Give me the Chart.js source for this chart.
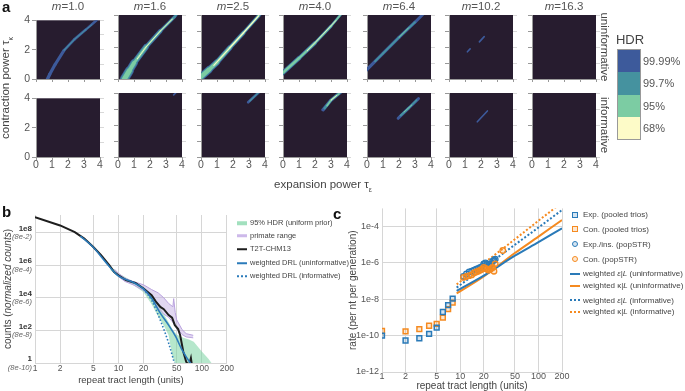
<!DOCTYPE html>
<html>
<head>
<meta charset="utf-8">
<script src="https://cdn.jsdelivr.net/npm/chart.js@4.4.1/dist/chart.umd.min.js"></script>
<style>
body { margin: 0; background: #fff; }
#fig { position: relative; width: 685px; height: 391px; overflow: hidden; background: #fff;
       font-family: 'Liberation Sans', Arial, Helvetica, sans-serif; color: #444; }
.t { position: absolute; white-space: nowrap; line-height: 1; transform: translate(-50%, -50%); }
.l { position: absolute; white-space: nowrap; line-height: 1; transform: translate(0, -50%); }
.sw { display: inline-block; vertical-align: middle; margin-right: 3px; }
canvas { position: absolute; }
</style>
</head>
<body>
<div id="fig"></div>
<script>
// ---------- panel a: HDR of (tau_eps, tau_kappa) per m ----------
const mValues = ['1.0', '1.6', '2.5', '4.0', '6.4', '10.2', '16.3'];
const hdrLevels = ['99.99%', '99.7%', '95%', '68%'];
const hdrColors = ['#3d5a9b', '#45929f', '#7ccca3', '#fdfbc8'];

// each band: list per HDR level of [tau_eps, tau_kappa, band width]
const uninformative = [
  [ // m=1.0
    [[0.72, 0, 0.22], [0.85, 0.3, 0.2], [1.2, 1.0, 0.2], [1.75, 1.95, 0.18], [2.4, 2.7, 0.17], [3.1, 3.35, 0.16], [3.8, 4.02, 0.15]],
    [[1.75, 1.95, 0.06], [2.4, 2.7, 0.07], [3.1, 3.35, 0.06], [3.5, 3.7, 0.05]],
    [], []
  ],
  [ // m=1.6
    [[0.4, 0, 0.62], [0.7, 0.5, 0.52], [1.0, 1.0, 0.44], [1.75, 2.0, 0.32], [2.65, 3.0, 0.24], [3.55, 3.9, 0.17], [3.68, 4.05, 0.15]],
    [[0.4, 0, 0.5], [0.7, 0.5, 0.42], [1.0, 1.0, 0.34], [1.75, 2.0, 0.24], [2.65, 3.0, 0.17], [3.55, 3.9, 0.11], [3.68, 4.05, 0.1]],
    [[0.4, 0, 0.34], [0.7, 0.5, 0.28], [1.0, 1.0, 0.2], [1.75, 2.0, 0.13], [2.65, 3.0, 0.09], [3.4, 3.75, 0.06]],
    [[1.2, 1.25, 0.05], [1.75, 2.0, 0.06], [2.65, 3.0, 0.05], [3.4, 3.75, 0.04]]
  ],
  [ // m=2.5
    [[-0.1, 0.05, 0.5], [0.5, 0.58, 0.42], [1.0, 1.05, 0.36], [1.8, 1.95, 0.3], [2.65, 2.88, 0.25], [3.6, 3.95, 0.2], [3.7, 4.05, 0.2]],
    [[-0.1, 0.05, 0.4], [0.5, 0.58, 0.34], [1.0, 1.05, 0.28], [1.8, 1.95, 0.22], [2.65, 2.88, 0.18], [3.6, 3.95, 0.14], [3.7, 4.05, 0.14]],
    [[-0.1, 0.05, 0.3], [0.5, 0.58, 0.25], [1.0, 1.05, 0.2], [1.8, 1.95, 0.16], [2.65, 2.88, 0.13], [3.6, 3.95, 0.1], [3.7, 4.05, 0.1]],
    [[0.8, 0.85, 0.05], [1.8, 1.95, 0.08], [2.65, 2.88, 0.08], [3.6, 3.95, 0.07]]
  ],
  [ // m=4.0
    [[-0.1, 0.3, 0.3], [1.0, 1.3, 0.26], [2.0, 2.25, 0.22], [3.0, 3.3, 0.18], [3.6, 4.02, 0.15]],
    [[-0.1, 0.3, 0.24], [1.0, 1.3, 0.2], [2.0, 2.25, 0.17], [3.0, 3.3, 0.14], [3.6, 4.02, 0.12]],
    [[-0.1, 0.3, 0.16], [1.0, 1.3, 0.14], [2.0, 2.25, 0.12], [3.0, 3.3, 0.1], [3.6, 4.02, 0.08]],
    [[1.5, 1.75, 0.04], [2.5, 2.8, 0.05], [3.3, 3.65, 0.04]]
  ],
  [ // m=6.4
    [[-0.1, 0.5, 0.2], [1.0, 1.6, 0.2], [2.0, 2.6, 0.2], [3.0, 3.55, 0.19], [3.5, 4.05, 0.18]],
    [[0.5, 1.1, 0.1], [1.0, 1.6, 0.12], [2.0, 2.6, 0.12], [3.0, 3.55, 0.1]],
    [[2.0, 2.6, 0.06], [2.6, 3.2, 0.06]],
    []
  ],
  [ // m=10.2
    [[1.15, 1.7, 0.1], [1.32, 1.88, 0.1], null, [1.9, 2.32, 0.1], [2.2, 2.65, 0.1]],
    [], [], []
  ],
  [[], [], [], []] // m=16.3
];

const informative = [
  [[], [], [], []],
  [[[3.48, 3.88, 0.1], [3.62, 4.02, 0.1]], [], [], []],
  [
    [[2.95, 3.42, 0.16], [3.3, 3.75, 0.16], [3.62, 4.05, 0.16]],
    [[3.05, 3.5, 0.08], [3.62, 4.05, 0.08]], [], []
  ],
  [
    [[2.5, 2.95, 0.2], [3.0, 3.55, 0.22], [3.6, 4.05, 0.2]],
    [[2.6, 3.05, 0.14], [3.0, 3.55, 0.16], [3.6, 4.05, 0.14]],
    [[2.75, 3.2, 0.09], [3.0, 3.55, 0.1], [3.5, 3.95, 0.09]],
    [[3.0, 3.55, 0.05], [3.35, 3.85, 0.05]]
  ],
  [
    [[1.95, 2.42, 0.18], [2.6, 3.05, 0.2], [3.22, 3.65, 0.16]],
    [[2.1, 2.6, 0.12], [2.6, 3.05, 0.13], [3.1, 3.55, 0.1]],
    [[2.3, 2.8, 0.06], [2.8, 3.25, 0.06]],
    []
  ],
  [[[1.77, 2.2, 0.1], [2.4, 2.88, 0.1]], [], [], []],
  [[], [], [], []]
];

// ---------- panel b: repeat tract length distribution ----------
const bTicksX = [1, 2, 5, 10, 20, 50, 100, 200];
const bTicksY = [1, 1e2, 1e4, 1e6, 1e8];
const t2tLen = [1, 2, 3, 3.9, 5, 6.2, 7.8, 8.9, 10, 12.3, 16, 20, 25, 28, 31.8, 35, 40, 44, 47.5, 52, 55, 60, 65, 70, 74, 77];
const t2tCounts = [8.9e8, 2.75e8, 1.07e8, 4.3e7, 1.3e7, 4.1e6, 9.8e5, 3.8e5, 2.4e5, 1.2e5, 8.1e4, 3.7e4, 1.45e4, 6e3, 2.75e3, 2e3, 870, 600, 210, 120, 51, 4.9, 1.2, 0.7, 2, 0.5];
const drlLen = [3.5, 5, 7, 10, 15, 20, 25, 31.8, 40, 48.7, 58, 73, 80];
const drlUninf = [6e7, 1.26e7, 1.6e6, 2.2e5, 8.9e4, 3.5e4, 9.3e3, 1.15e3, 209, 41, 6.3, 1.0, 0.63];
const drlInfLen = [20, 25, 31.8, 40, 47.5];
const drlInf = [3.5e4, 7.1e3, 427, 16.6, 0.79];
const hdrLen = [8, 10, 15, 20, 25, 30, 35, 40, 44, 50, 60, 70, 80, 100, 120, 135];
const hdrHigh = [8.9e5, 3.2e5, 1e5, 4.8e4, 1.6e4, 4.5e3, 1e3, 316, 126, 56, 35, 28, 20, 5, 1.8, 0.8];
const hdrLow = [5e5, 1.8e5, 6.3e4, 2.2e4, 4e3, 710, 200, 50, 3.2, 0.5, 0.5, 0.5, 0.5, 0.5, 0.5, 0.5];
const primLen = [9, 10, 12, 15, 20, 25, 30, 35, 40, 45, 46, 48, 50, 58, 65, 79];
const primHigh = [5.6e5, 3.2e5, 1.6e5, 1e5, 6.3e4, 3.2e4, 2e4, 1e4, 4.5e3, 2.8e3, 8.9e3, 1.26e3, 447, 112, 63, 50];
const primLow = [3.5e5, 2e5, 1e5, 6.3e4, 2.8e4, 1e4, 2.2e3, 1e3, 630, 316, 251, 200, 141, 56, 40, 35];

// ---------- panel c: mutation rates ----------
const cTicksX = [1, 2, 5, 10, 20, 50, 100, 200];
const cTicksY = [1e-12, 1e-10, 1e-8, 1e-6, 1e-4];
const trioLen = [1, 2, 3, 4, 5, 6, 7, 8];
const trioExp = [1e-10, 5.4e-11, 7.2e-11, 1.26e-10, 2.75e-10, 2e-9, 4.8e-9, 1.1e-8];
const trioCon = [1.8e-10, 1.7e-10, 2.3e-10, 3.5e-10, 4.4e-10, 9.8e-10, 2.9e-9, 6.6e-9];
const popLen = [11, 12, 13, 14, 15, 16, 17, 18, 19, 20, 21, 22, 23, 24, 25, 26, 27, 28];
const popExp = [1.8e-7, 2.5e-7, 3.2e-7, 3.5e-7, 4e-7, 4.5e-7, 5e-7, 5.6e-7, 6.3e-7, 8.9e-7, 1e-6, 8.9e-7, 7.9e-7, 7.1e-7, 8.9e-7, 1.26e-6, 1.4e-6, 1.6e-6];
const popConLen = [11, 12, 13, 14, 15, 16, 17, 18, 19, 20, 21, 22, 23, 24, 25, 26, 27, 28, 35];
const popCon = [1.6e-7, 1.8e-7, 2e-7, 2.2e-7, 2.8e-7, 3.2e-7, 3.5e-7, 4e-7, 4.5e-7, 5.6e-7, 5e-7, 4.5e-7, 4e-7, 4.5e-7, 5e-7, 5.6e-7, 3.5e-7, 8.9e-7, 4.8e-6];
const fitLen = [9, 20, 50, 100, 200];
const epsUninf = [2.9e-8, 2.0e-7, 2.5e-6, 1.4e-5, 8.1e-5];
const kapUninf = [2.1e-8, 1.8e-7, 3.5e-6, 2.8e-5, 2.3e-4];
const epsInf = [4.4e-8, 5.5e-7, 1e-5, 8.9e-5, 8.1e-4];
const kapInf = [6.6e-8, 9.5e-7, 2e-5, 2.1e-4, 2.1e-3];

// ---------- helpers ----------
const fig = document.getElementById('fig');
Chart.defaults.font.family = "'Liberation Sans', Arial, Helvetica, sans-serif";
Chart.defaults.color = '#555';

function addChart(left, top, width, height, config) {
  const cv = document.createElement('canvas');
  cv.width = width; cv.height = height;
  cv.style.left = left + 'px'; cv.style.top = top + 'px';
  cv.style.width = width + 'px'; cv.style.height = height + 'px';
  fig.appendChild(cv);
  config.options = Object.assign({ responsive: false, animation: false, devicePixelRatio: 1 }, config.options);
  return new Chart(cv, config);
}

function text(x, y, html, css, cls) {
  const d = document.createElement('div');
  d.className = cls || 't';
  d.innerHTML = html;
  d.style.left = x + 'px'; d.style.top = y + 'px';
  if (css) d.style.cssText += css;
  fig.appendChild(d);
  return d;
}

const xy = (xs, ys) => xs.map((x, i) => ({ x, y: ys[i] }));
const logTicks = list => scale => { scale.ticks = list.map(v => ({ value: v })); };

const panelBg = {
  id: 'panelBg',
  beforeDraw(chart, args, opts) {
    const a = chart.chartArea, ctx = chart.ctx;
    ctx.save();
    ctx.fillStyle = opts.color;
    ctx.fillRect(a.left, a.top, a.right - a.left, a.bottom - a.top);
    ctx.restore();
  }
};

function bandDatasets(levels) {
  const sets = [];
  levels.forEach((pts, i) => {
    if (!pts.length) return;
    sets.push({
      label: hdrLevels[i],
      data: pts.map(p => p ? { x: p[0], y: p[1] } : { x: null, y: null }),
      borderColor: hdrColors[i],
      borderCapStyle: 'round',
      borderJoinStyle: 'round',
      pointRadius: 0,
      tension: 0,
      clip: 0,
      order: levels.length - i,
      segment: {
        borderWidth: ctx => {
          const sx = ctx.chart.scales.x;
          const w = (pts[ctx.p0DataIndex][2] + pts[ctx.p1DataIndex][2]) / 2;
          return w * Math.abs(sx.getPixelForValue(1) - sx.getPixelForValue(0));
        }
      }
    });
  });
  return sets;
}

// ---------- panel a ----------
const panelLeft = [36, 118, 201, 283, 367, 449, 532];
const rowTop = [15, 93];
const PANEL = 64;

function heatPanel(col, row, levels) {
  const left = panelLeft[col], top = rowTop[row];
  addChart(left - 30, top - 3, PANEL + 36, PANEL + 26, {
    type: 'line',
    data: { datasets: bandDatasets(levels) },
    options: {
      layout: { padding: { top: 3, right: 2, left: 0, bottom: 0 } },
      plugins: { legend: { display: false }, tooltip: { enabled: false }, panelBg: { color: '#271c2f' } },
      scales: {
        x: {
          type: 'linear', min: 0, max: 4,
          afterFit: s => { s.height = 23; },
          ticks: { stepSize: 1, display: row === 1, padding: -1, color: '#555', font: { size: 10.5 } },
          grid: { drawOnChartArea: false, tickLength: 3, color: '#999' },
          border: { color: '#999' }
        },
        y: {
          type: 'linear', min: 0, max: 4,
          afterFit: s => { s.width = 30; },
          ticks: { stepSize: 1, display: col === 0, padding: 2, color: '#555', font: { size: 10.5 } },
          grid: { drawOnChartArea: false, tickLength: 4, color: '#999' },
          border: { color: '#999' }
        },
        yRight: {
          type: 'linear', position: 'right', min: 0, max: 4,
          afterFit: s => { s.width = 4; },
          ticks: { stepSize: 1, display: false },
          grid: { drawOnChartArea: false, tickLength: 4, color: '#d8d8d8' },
          border: { display: false }
        }
      }
    },
    plugins: [panelBg]
  });
}

mValues.forEach((m, c) => {
  heatPanel(c, 0, uninformative[c]);
  heatPanel(c, 1, informative[c]);
  text(panelLeft[c] + PANEL / 2, 7, '<i>m</i>=' + m, 'font-size:11.5px;color:#555');
});

text(2, 6, 'a', 'font-size:15px;font-weight:bold;color:#111;transform:translate(0,-50%)');
text(7, 88, 'contraction power &tau;<sub style="font-size:7px">&kappa;</sub>', 'font-size:11.5px;transform:translate(-50%,-50%) rotate(-90deg)');
text(323, 186, 'expansion power &tau;<sub style="font-size:7px">&epsilon;</sub>', 'font-size:11.5px');
text(604, 47, 'uninformative', 'font-size:11.5px;transform:translate(-50%,-50%) rotate(90deg)');
text(604, 125, 'informative', 'font-size:11.5px;transform:translate(-50%,-50%) rotate(90deg)');

// HDR colour key
text(630, 39, 'HDR', 'font-size:13px;color:#444');
hdrLevels.forEach((lv, i) => {
  const k = document.createElement('div');
  k.style.cssText = `position:absolute;left:618px;top:${50 + i * 22.25}px;width:22px;height:22.25px;background:${hdrColors[i]}`;
  fig.appendChild(k);
  text(643, 61 + i * 22.25, lv, 'font-size:11px;color:#555', 'l');
});
const keyFrame = document.createElement('div');
keyFrame.style.cssText = 'position:absolute;left:617px;top:49px;width:22px;height:89px;border:1px solid #999';
fig.appendChild(keyFrame);

// ---------- panel b ----------
const gridCol = '#d6d6d6';
const bTop = 205;
const bChart = addChart(0, bTop, 235, 186, {
  type: 'line',
  data: {
    datasets: [
      { label: '95% HDR (uniform prior)', data: xy(hdrLen, hdrHigh), fill: '+1', backgroundColor: 'rgba(122,211,163,0.55)', borderWidth: 0, pointRadius: 0, clip: 0, order: 6 },
      { label: 'hdr low', data: xy(hdrLen, hdrLow), borderWidth: 0, pointRadius: 0, fill: false, clip: 0, order: 6 },
      { label: 'primate range', data: xy(primLen, primHigh), fill: '+1', backgroundColor: 'rgba(196,176,228,0.5)', borderColor: '#b9a2de', borderWidth: 1, pointRadius: 0, clip: 0, order: 5 },
      { label: 'primate low', data: xy(primLen, primLow), borderColor: '#b9a2de', borderWidth: 1, pointRadius: 0, fill: false, clip: 0, order: 5 },
      { label: 'T2T-CHM13', data: xy(t2tLen, t2tCounts), borderColor: '#1e1e1e', borderWidth: 2, pointRadius: 0, clip: 0, order: 3 },
      { label: 'weighted DRL (uninformative)', data: xy(drlLen, drlUninf), borderColor: '#2b7bba', borderWidth: 1.6, pointRadius: 0, cubicInterpolationMode: 'monotone', clip: 0, order: 2 },
      { label: 'weighted DRL (informative)', data: xy(drlInfLen, drlInf), borderColor: '#2b7bba', borderWidth: 1.6, borderDash: [1.5, 2], pointRadius: 0, cubicInterpolationMode: 'monotone', clip: 0, order: 1 }
    ]
  },
  options: {
    layout: { padding: { top: 10, right: 6, left: 0, bottom: 0 } },
    plugins: { legend: { display: false }, tooltip: { enabled: false } },
    scales: {
      x: {
        type: 'logarithmic', min: 1, max: 200,
        afterBuildTicks: logTicks(bTicksX),
        afterFit: s => { s.height = 28; },
        ticks: { callback: v => String(v), autoSkip: false, maxRotation: 0, padding: 1, color: '#555', font: { size: 8.5 } },
        grid: { color: gridCol, drawTicks: false },
        border: { display: false },
        title: { display: true, text: 'repeat tract length (units)', color: '#444', font: { size: 9.5 }, padding: { top: 0, bottom: 5 } }
      },
      y: {
        type: 'logarithmic', min: 1, max: 1.2e9,
        afterBuildTicks: logTicks(bTicksY),
        afterFit: s => { s.width = 35; },
        ticks: { callback: v => v === 1 ? '1' : '1e' + Math.round(Math.log10(v)), labelOffset: -4, padding: 3, color: '#333', font: { size: 8, weight: 'bold' } },
        grid: { color: gridCol, drawTicks: false },
        border: { display: false }
      }
    }
  }
});
// normalised-count labels sit under each count tick
bTicksY.forEach(v => {
  const y = bTop + bChart.scales.y.getPixelForValue(v) + 4.5;
  text(32, y, '(8e-' + (10 - Math.round(Math.log10(v))) + ')', 'font-size:7.5px;font-style:italic;color:#666;transform:translate(-100%,-50%)');
});
text(2, 211, 'b', 'font-size:15px;font-weight:bold;color:#111;transform:translate(0,-50%)');
text(8, 289, 'counts (<i>normalized counts</i>)', 'font-size:10px;transform:translate(-50%,-50%) rotate(-90deg)');

const bLegend = [
  ['95% HDR (uniform prior)', 'height:4px;background:rgba(122,211,163,0.7)'],
  ['primate range', 'height:3px;background:#cdb9ea'],
  ['T2T-CHM13', 'height:2px;background:#1e1e1e'],
  ['weighted DRL (uninformative)', 'height:2px;background:#2b7bba'],
  ['weighted DRL (informative)', 'height:0;border-top:2px dotted #2b7bba']
];
const bLegY = [223, 235.5, 249, 262.5, 276];
bLegend.forEach(([lab, sw], i) => {
  text(237, bLegY[i], `<span class="sw" style="width:10px;${sw}"></span>${lab}`, 'font-size:7.5px;color:#444', 'l');
});

// ---------- panel c ----------
const cBlue = '#2a7ab8', cOrange = '#f58a20';
addChart(340, 200, 230, 191, {
  type: 'scatter',
  data: {
    datasets: [
      { label: 'Exp. (pooled trios)', data: xy(trioLen, trioExp), pointStyle: 'rect', pointRadius: 3.4, borderWidth: 1.5, borderColor: cBlue, backgroundColor: 'rgba(42,122,184,0.2)', order: 1 },
      { label: 'Con. (pooled trios)', data: xy(trioLen, trioCon), pointStyle: 'rect', pointRadius: 3.4, borderWidth: 1.5, borderColor: cOrange, backgroundColor: 'rgba(245,138,32,0.2)', order: 1 },
      { label: 'Exp./ins. (popSTR)', data: xy(popLen, popExp), pointStyle: 'circle', pointRadius: 2.8, borderWidth: 1.3, borderColor: cBlue, backgroundColor: 'rgba(42,122,184,0.2)', order: 2 },
      { label: 'Con. (popSTR)', data: xy(popConLen, popCon), pointStyle: 'circle', pointRadius: 2.8, borderWidth: 1.3, borderColor: cOrange, backgroundColor: 'rgba(245,138,32,0.2)', order: 1 },
      { label: 'weighted \u03b5|L (uninformative)', data: xy(fitLen, epsUninf), showLine: true, borderColor: cBlue, borderWidth: 2, pointRadius: 0, cubicInterpolationMode: 'monotone', clip: 0, order: 3 },
      { label: 'weighted \u03ba|L (uninformative)', data: xy(fitLen, kapUninf), showLine: true, borderColor: cOrange, borderWidth: 2, pointRadius: 0, cubicInterpolationMode: 'monotone', clip: 0, order: 3 },
      { label: 'weighted \u03b5|L (informative)', data: xy(fitLen, epsInf), showLine: true, borderColor: cBlue, borderWidth: 2, borderDash: [2, 2], pointRadius: 0, cubicInterpolationMode: 'monotone', clip: 0, order: 3 },
      { label: 'weighted \u03ba|L (informative)', data: xy(fitLen, kapInf), showLine: true, borderColor: cOrange, borderWidth: 2, borderDash: [2, 2], pointRadius: 0, cubicInterpolationMode: 'monotone', clip: 0, order: 3 }
    ]
  },
  options: {
    layout: { padding: { top: 7, right: 8, left: 0, bottom: 0 } },
    plugins: { legend: { display: false }, tooltip: { enabled: false } },
    scales: {
      x: {
        type: 'logarithmic', min: 1, max: 200,
        afterBuildTicks: logTicks(cTicksX),
        afterFit: s => { s.height = 19; },
        ticks: { callback: v => String(v), autoSkip: false, maxRotation: 0, padding: -1, color: '#555', font: { size: 9 } },
        grid: { color: gridCol, drawTicks: false },
        border: { display: false },
        title: { display: true, text: 'repeat tract length (units)', color: '#444', font: { size: 10 }, padding: { top: 0, bottom: -1 } }
      },
      y: {
        type: 'logarithmic', min: 1e-12, max: 1e-3,
        afterBuildTicks: logTicks(cTicksY),
        afterFit: s => { s.width = 42; },
        ticks: { callback: v => '1e' + Math.round(Math.log10(v)), padding: 3, color: '#555', font: { size: 9 } },
        grid: { color: gridCol, drawTicks: false },
        border: { display: false },
        title: { display: true, text: 'rate (per nt per generation)', color: '#444', font: { size: 10 }, padding: { top: 7, bottom: 0 } }
      }
    }
  }
});
text(333, 213, 'c', 'font-size:15px;font-weight:bold;color:#111;transform:translate(0,-50%)');

const mk = (shape, col) => shape === 'sq'
  ? `<span class="sw" style="width:4px;height:4px;border:1.5px solid ${col};background:${col}33;margin:0 5px 0 2px"></span>`
  : `<span class="sw" style="width:4px;height:4px;border:1.3px solid ${col};border-radius:50%;background:${col}33;margin:0 5px 0 2px"></span>`;
const ln = (col, dotted) => `<span class="sw" style="width:10px;height:0;border-top:2px ${dotted ? 'dotted' : 'solid'} ${col};margin-right:3px"></span>`;
const cLegend = [
  [mk('sq', cBlue), 'Exp. (pooled trios)'],
  [mk('sq', cOrange), 'Con. (pooled trios)'],
  [mk('ci', cBlue), 'Exp./ins. (popSTR)'],
  [mk('ci', cOrange), 'Con. (popSTR)'],
  [ln(cBlue, false), 'weighted <i>&epsilon;</i>|<i>L</i> (uninformative)'],
  [ln(cOrange, false), 'weighted &kappa;|<i>L</i> (uninformative)'],
  [ln(cBlue, true), 'weighted <i>&epsilon;</i>|<i>L</i> (informative)'],
  [ln(cOrange, true), 'weighted &kappa;|<i>L</i> (informative)']
];
const cLegY = [215, 229.5, 244.5, 259.5, 274, 286, 300.5, 312];
cLegend.forEach(([sw, lab], i) => {
  text(570, cLegY[i], sw + lab, 'font-size:8px;color:#444', 'l');
});
</script>
</body>
</html>
